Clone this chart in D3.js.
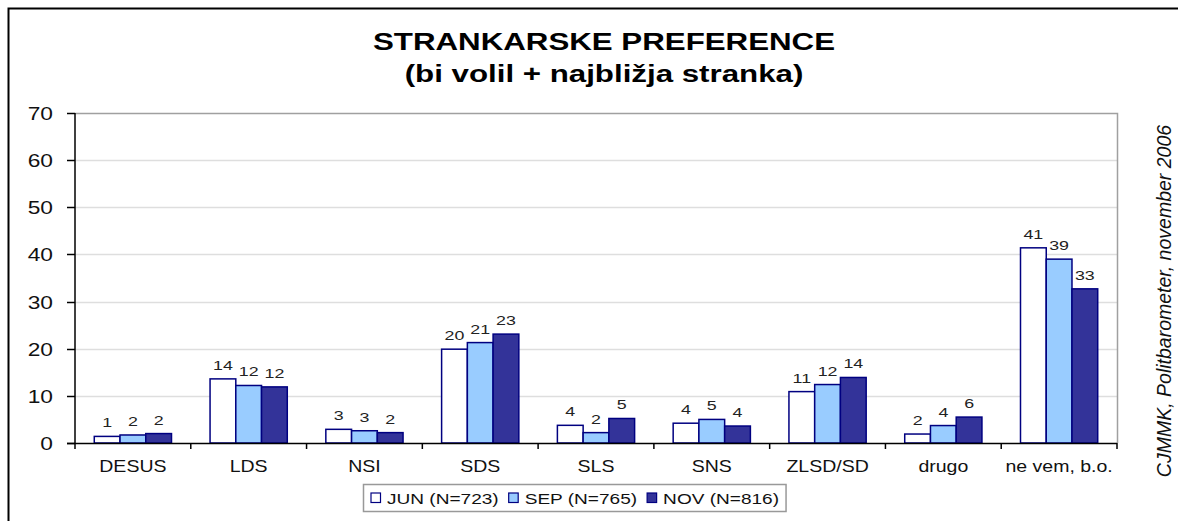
<!DOCTYPE html>
<html>
<head>
<meta charset="utf-8">
<script src="https://cdn.jsdelivr.net/npm/d3@7"></script>
<style>
    html, body { margin: 0; padding: 0; background: #fff; }
    svg { display: block; font-family: "Liberation Sans", Arial, sans-serif; }
</style>
</head>
<body>
<div id="chart"></div>
<script>
// chart data
const categories = ["DESUS", "LDS", "NSI", "SDS", "SLS", "SNS", "ZLSD/SD", "drugo", "ne vem, b.o."];
const seriesNames = ["JUN (N=723)", "SEP (N=765)", "NOV (N=816)"];
const junValues = [1.4, 13.6, 2.9, 19.9, 3.75, 4.2, 10.9, 1.9, 41.4];
const sepValues = [1.7, 12.2, 2.6, 21.3, 2.2, 5.0, 12.4, 3.7, 39.0];
const novValues = [2.0, 11.9, 2.2, 23.1, 5.2, 3.6, 13.9, 5.5, 32.7];
const yTicks = [0, 10, 20, 30, 40, 50, 60, 70];
const titleLines = ["STRANKARSKE PREFERENCE", "(bi volil + najbližja stranka)"];
const sourceNote = "CJMMK, Politbarometer, november 2006";

document.addEventListener("DOMContentLoaded", function () {
    const width = 1178, height = 521;
    const plot = { left: 75, right: 1117, top: 113, bottom: 443 };
    const colors = ["#ffffff", "#99ccff", "#333399"];
    const stretch = 1.28;   // the picture's text is drawn wide

    const svg = d3.select("#chart").append("svg")
        .attr("width", width)
        .attr("height", height);

    // stretched text helper
    function wideText(parent, x, y, str, size, anchor, sx) {
        return parent.append("text")
            .attr("transform", `translate(${x},${y}) scale(${sx || stretch},1)`)
            .attr("text-anchor", anchor || "middle")
            .style("font-size", size + "px")
            .text(str);
    }

    // outer frame (only left and top edges are visible)
    svg.append("path")
        .attr("d", `M8.5,${height} V8.5 H${width}`)
        .attr("fill", "none")
        .attr("stroke", "#000")
        .attr("stroke-width", 2);

    // title
    const title = svg.append("g").style("font-weight", "bold").attr("fill", "#000");
    wideText(title, 604, 50, titleLines[0], 23, "middle", 1.36);
    wideText(title, 604, 82, titleLines[1], 23, "middle", 1.36);

    const y = d3.scaleLinear().domain([0, 70]).range([plot.bottom, plot.top]);
    const x0 = d3.scaleBand().domain(categories).range([plot.left, plot.right])
        .paddingInner(0.333).paddingOuter(0.1665);
    const x1 = d3.scaleBand().domain(seriesNames).range([0, x0.bandwidth()]);

    // gridlines
    svg.append("g").selectAll("line")
        .data(yTicks.slice(1, -1))
        .enter().append("line")
        .attr("x1", plot.left).attr("x2", plot.right)
        .attr("y1", d => Math.round(y(d)) + 0.5).attr("y2", d => Math.round(y(d)) + 0.5)
        .attr("stroke", "#dedede")
        .attr("stroke-width", 1.5);

    // plot border top/right
    svg.append("path")
        .attr("d", `M${plot.left},${plot.top + 0.5} H${plot.right + 0.5} V${plot.bottom}`)
        .attr("fill", "none")
        .attr("stroke", "#a0a0a0")
        .attr("stroke-width", 1.5);

    // bars
    const series = [junValues, sepValues, novValues];
    const barData = [];
    categories.forEach((c, i) => {
        seriesNames.forEach((s, j) => {
            barData.push({ cat: c, name: s, value: series[j][i], color: colors[j] });
        });
    });

    const barW = x1.bandwidth();
    svg.append("g").selectAll("rect")
        .data(barData)
        .enter().append("rect")
        .attr("x", d => x0(d.cat) + x1(d.name))
        .attr("y", d => y(d.value))
        .attr("width", barW)
        .attr("height", d => y(0) - y(d.value))
        .attr("fill", d => d.color)
        .attr("stroke", "#000080")
        .attr("stroke-width", 1.5);

    // value labels
    const labels = svg.append("g").attr("fill", "#222");
    barData.forEach(d => {
        wideText(labels, x0(d.cat) + x1(d.name) + barW / 2, y(d.value) - 9,
            Math.round(d.value), 13.5, "middle", 1.32);
    });

    // y axis
    const yAxis = svg.append("g");
    yAxis.append("line")
        .attr("x1", plot.left).attr("x2", plot.left)
        .attr("y1", plot.top).attr("y2", plot.bottom)
        .attr("stroke", "#000").attr("stroke-width", 1.5);
    yTicks.forEach(t => {
        const ty = Math.round(y(t)) + 0.5;
        yAxis.append("line")
            .attr("x1", plot.left - 8).attr("x2", plot.left)
            .attr("y1", ty).attr("y2", ty)
            .attr("stroke", "#000").attr("stroke-width", 1.5);
        wideText(yAxis, 53, ty + 6.5, t, 17.5, "end", 1.3).attr("fill", "#111");
    });

    // x axis
    const xAxis = svg.append("g");
    xAxis.append("line")
        .attr("x1", plot.left - 8).attr("x2", plot.right)
        .attr("y1", plot.bottom + 0.5).attr("y2", plot.bottom + 0.5)
        .attr("stroke", "#000").attr("stroke-width", 1.5);
    const step = x0.step();
    d3.range(categories.length + 1).forEach(i => {
        const tx = plot.left + i * step;
        xAxis.append("line")
            .attr("x1", tx).attr("x2", tx)
            .attr("y1", plot.bottom).attr("y2", plot.bottom + 6)
            .attr("stroke", "#000").attr("stroke-width", 1.5);
    });
    categories.forEach(c => {
        wideText(xAxis, x0(c) + x0.bandwidth() / 2, 472, c, 16, "middle", 1.22).attr("fill", "#111");
    });

    // legend
    const legend = svg.append("g");
    const box = legend.append("rect")
        .attr("x", 363.5).attr("y", 484.5)
        .attr("height", 27)
        .attr("fill", "#fff")
        .attr("stroke", "#999")
        .attr("stroke-width", 1.5);
    const legendStretch = 1.315;
    let lx = 371;
    seriesNames.forEach((s, j) => {
        legend.append("rect")
            .attr("x", lx).attr("y", 493)
            .attr("width", 9.5).attr("height", 9.5)
            .attr("fill", colors[j])
            .attr("stroke", "#000080")
            .attr("stroke-width", 1.2);
        const t = wideText(legend, lx + 16, 503.5, s, 14.5, "start", legendStretch).attr("fill", "#111");
        lx += 16 + t.node().getComputedTextLength() * legendStretch + 10;
    });
    box.attr("width", lx - 10 + 7 - 363.5);

    // source note on the right
    svg.append("text")
        .attr("transform", "translate(1171,301) rotate(-90)")
        .attr("text-anchor", "middle")
        .style("font-size", "19.5px")
        .style("font-style", "italic")
        .attr("fill", "#111")
        .text(sourceNote);
});
</script>
</body>
</html>
